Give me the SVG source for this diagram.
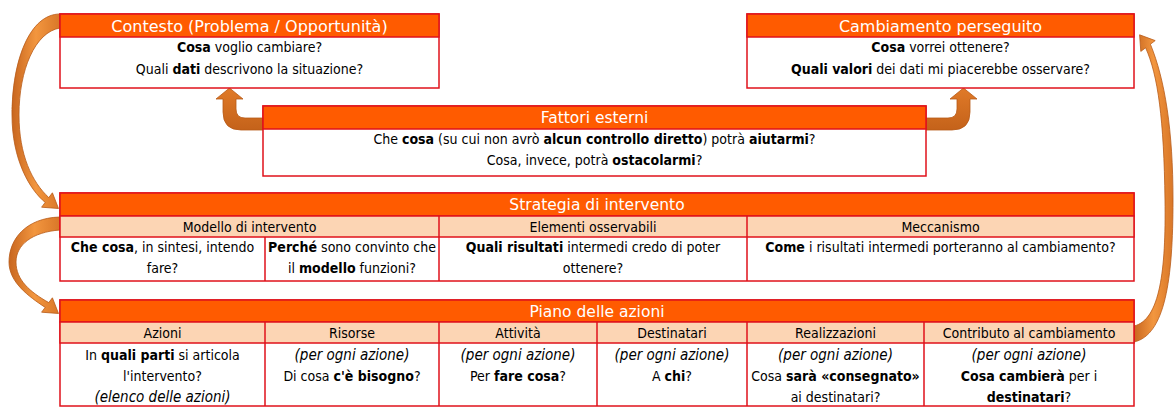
<svg xmlns="http://www.w3.org/2000/svg" width="1174" height="407" viewBox="0 0 1174 407">
<defs>
<linearGradient id="ga" x1="0" y1="0" x2="1" y2="0">
<stop offset="0" stop-color="#C8661F"/>
<stop offset="0.5" stop-color="#F2963F"/>
<stop offset="1" stop-color="#D97728"/>
</linearGradient>
<linearGradient id="gu" x1="0" y1="0" x2="0" y2="1">
<stop offset="0" stop-color="#E07A28"/>
<stop offset="1" stop-color="#C4621A"/>
</linearGradient>
<style>
.box{fill:#fff;stroke:#E0121B;stroke-width:1.5}
.hd{fill:#FF5B00;stroke:#E0121B;stroke-width:1.5}
.sub{fill:#FCD5B4;stroke:#E0121B;stroke-width:1.5}
.ln{stroke:#E0121B;stroke-width:1.5;fill:none}
text{font-family:"DejaVu Sans Condensed","DejaVu Sans",sans-serif;font-stretch:condensed;text-anchor:middle;fill:#000}
.ht{fill:#fff;font-size:16px;font-family:"DejaVu Sans",sans-serif;font-stretch:normal}
.ht2{fill:#fff;font-size:15.5px;font-family:"DejaVu Sans",sans-serif;font-stretch:normal}
.t{font-size:14px}
.b{font-weight:bold}
.i{font-style:italic;font-size:15px}
.arr{fill:url(#ga);stroke:#B85A18;stroke-width:0.8}
.arru{fill:url(#gu);stroke:#B85A18;stroke-width:0.8}
</style>
</defs>
<rect width="1174" height="407" fill="#fff"/>

<g id="connectors">
<path class="arr" d="M60,14 C30,14 12,60 12,115 C12,160 30,190 45.2,202.4 L41.6,207.2 L58.5,208.5 L52.4,192.8 L48.8,197.6 C32,182 19,155 19,115 C19,70 35,32 60,28 Z"/>
<path class="arr" d="M60,217 C25,218 9,240 9,262 C9,282 28,296 45.2,307.4 L41.6,312.2 L58.5,313.5 L52.4,297.8 L48.8,302.6 C30,292 16,280 16,262 C16,245 32,232 60,230 Z"/>
<path class="arr" d="M1134,326 C1160,320 1166,270 1165,200 C1164,120 1158,75 1145.6,47.8 L1140.8,51.4 L1139.6,34.8 L1155.2,40.6 L1150.4,44.2 C1165,80 1173,130 1173,200 C1173,280 1165,335 1134,342 Z"/>
<path class="arru" d="M263,118 L245,118 Q236,118 236,109 L236,99 L243,99 L229.5,88 L216,99 L223,99 L223,112 Q223,130 241,130 L263,130 Z"/>
<path class="arru" d="M926,118 L948,118 Q957,118 957,109 L957,99 L950,99 L963.5,88 L977,99 L970,99 L970,112 Q970,130 952,130 L926,130 Z"/>
</g>

<g id="contesto">
<rect class="box" x="60" y="14" width="379" height="74"/>
<rect class="hd" x="60" y="14" width="379" height="23"/>
<text class="ht" x="249.5" y="31.5">Contesto (Problema / Opportunità)</text>
<text class="t" x="249.5" y="52">
<tspan class="b">Cosa</tspan> voglio cambiare?</text>
<text class="t" x="249.5" y="74">Quali <tspan class="b">dati</tspan> descrivono la situazione?</text>
</g>

<g id="cambiamento">
<rect class="box" x="747" y="14" width="387" height="74"/>
<rect class="hd" x="747" y="14" width="387" height="23"/>
<text class="ht" x="940.5" y="31.5">Cambiamento perseguito</text>
<text class="t" x="940.5" y="52"><tspan class="b">Cosa</tspan> vorrei ottenere?</text>
<text class="t" x="940.5" y="74"><tspan class="b">Quali valori</tspan> dei dati mi piacerebbe osservare?</text>
</g>

<g id="fattori">
<rect class="box" x="263" y="106" width="663" height="70"/>
<rect class="hd" x="263" y="106" width="663" height="23"/>
<text class="ht2" x="594.5" y="123">Fattori esterni</text>
<text class="t" x="594.5" y="144">Che <tspan class="b">cosa</tspan> (su cui non avrò <tspan class="b">alcun controllo diretto</tspan>) potrà <tspan class="b">aiutarmi</tspan>?</text>
<text class="t" x="594.5" y="165">Cosa, invece, potrà <tspan class="b">ostacolarmi</tspan>?</text>
</g>

<g id="strategia">
<rect class="box" x="60" y="193" width="1074" height="88"/>
<rect class="hd" x="60" y="193" width="1074" height="23"/>
<rect class="sub" x="60" y="216" width="1074" height="21"/>
<path class="ln" d="M439,216 V281 M747,216 V281 M265,237 V281"/>
<text class="ht2" x="597" y="210">Strategia di intervento</text>
<text class="t" x="249.5" y="231.5">Modello di intervento</text>
<text class="t" x="593" y="231.5">Elementi osservabili</text>
<text class="t" x="940.5" y="231.5">Meccanismo</text>
<text class="t" x="162.5" y="252"><tspan class="b">Che cosa</tspan>, in sintesi, intendo</text>
<text class="t" x="162.5" y="273">fare?</text>
<text class="t" x="352" y="252"><tspan class="b">Perché</tspan> sono convinto che</text>
<text class="t" x="352" y="273">il <tspan class="b">modello</tspan> funzioni?</text>
<text class="t" x="593" y="252"><tspan class="b">Quali risultati</tspan> intermedi credo di poter</text>
<text class="t" x="593" y="273">ottenere?</text>
<text class="t" x="940.5" y="252"><tspan class="b">Come</tspan> i risultati intermedi porteranno al cambiamento?</text>
</g>

<g id="piano">
<rect class="box" x="60" y="300" width="1074" height="106"/>
<rect class="hd" x="60" y="300" width="1074" height="22"/>
<rect class="sub" x="60" y="322" width="1074" height="21"/>
<path class="ln" d="M265,322 V406 M439,322 V406 M597,322 V406 M747,322 V406 M924,322 V406"/>
<text class="ht2" x="597" y="317">Piano delle azioni</text>
<text class="t" x="162.5" y="338">Azioni</text>
<text class="t" x="352" y="338">Risorse</text>
<text class="t" x="518" y="338">Attività</text>
<text class="t" x="672" y="338">Destinatari</text>
<text class="t" x="835.5" y="338">Realizzazioni</text>
<text class="t" x="1029" y="338">Contributo al cambiamento</text>
<text class="t" x="162.5" y="360">In <tspan class="b">quali parti</tspan> si articola</text>
<text class="t" x="162.5" y="381">l'intervento?</text>
<text class="t i" x="162.5" y="402">(elenco delle azioni)</text>
<text class="t i" x="352" y="360">(per ogni azione)</text>
<text class="t" x="352" y="381">Di cosa <tspan class="b">c'è bisogno</tspan>?</text>
<text class="t i" x="518" y="360">(per ogni azione)</text>
<text class="t" x="518" y="381">Per <tspan class="b">fare cosa</tspan>?</text>
<text class="t i" x="672" y="360">(per ogni azione)</text>
<text class="t" x="672" y="381">A <tspan class="b">chi</tspan>?</text>
<text class="t i" x="835.5" y="360">(per ogni azione)</text>
<text class="t" x="835.5" y="381">Cosa <tspan class="b">sarà «consegnato»</tspan></text>
<text class="t" x="835.5" y="402">ai destinatari?</text>
<text class="t i" x="1029" y="360">(per ogni azione)</text>
<text class="t" x="1029" y="381"><tspan class="b">Cosa cambierà</tspan> per i</text>
<text class="t" x="1029" y="402"><tspan class="b">destinatari</tspan>?</text>
</g>
</svg>
